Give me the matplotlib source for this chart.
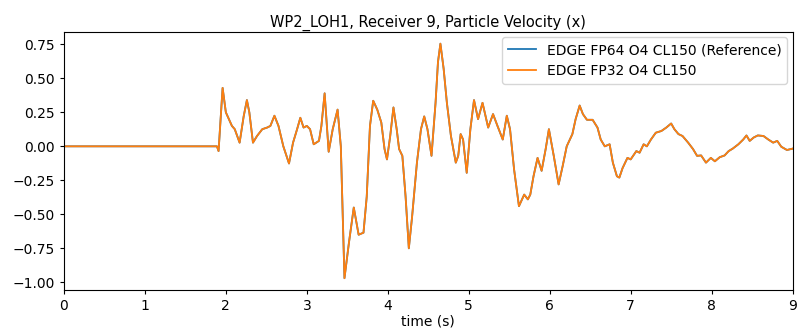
import matplotlib

matplotlib.use("Agg")
import matplotlib.pyplot as plt

# Receiver 9 particle velocity (x)
time_s = [
    0.00, 1.89, 1.91, 1.96, 2.00, 2.075, 2.11, 2.17, 2.22, 2.26, 2.29, 2.335,
    2.385, 2.45, 2.51, 2.55, 2.60, 2.65, 2.71, 2.78, 2.83, 2.88, 2.92, 2.96,
    3.00, 3.04, 3.085, 3.15, 3.18, 3.22, 3.27, 3.32, 3.38, 3.42, 3.465, 3.52,
    3.58, 3.64, 3.70, 3.74, 3.78, 3.82, 3.87, 3.92, 3.96, 3.99, 4.03, 4.07,
    4.11, 4.14, 4.18, 4.22, 4.26, 4.30, 4.36, 4.41, 4.45, 4.49, 4.54, 4.59,
    4.62, 4.65, 4.69, 4.73, 4.78, 4.84, 4.87, 4.90, 4.93, 4.975, 5.02, 5.065,
    5.115, 5.17, 5.24, 5.30, 5.355, 5.42, 5.47, 5.51, 5.56, 5.62, 5.685, 5.73,
    5.76, 5.80, 5.85, 5.90, 5.95, 5.99, 6.05, 6.11, 6.16, 6.21, 6.28, 6.32,
    6.37, 6.41, 6.46, 6.53, 6.59, 6.63, 6.68, 6.74, 6.78, 6.83, 6.86, 6.90,
    6.96, 7.00, 7.07, 7.11, 7.16, 7.20, 7.25, 7.31, 7.38, 7.44, 7.50, 7.54,
    7.59, 7.64, 7.71, 7.77, 7.82, 7.87, 7.93, 7.99, 8.04, 8.10, 8.16, 8.21,
    8.26, 8.33, 8.39, 8.43, 8.47, 8.52, 8.57, 8.64, 8.70, 8.76, 8.81, 8.86,
    8.93, 9.00,
]
vel_fp64 = [
    0.0, 0.0, -0.035, 0.43, 0.25, 0.15, 0.126, 0.027, 0.22, 0.34, 0.25, 0.027,
    0.076, 0.126, 0.138, 0.15, 0.225, 0.15, 0.0, -0.126, 0.027, 0.126, 0.21, 0.138,
    0.15, 0.126, 0.015, 0.04, 0.15, 0.39, -0.04, 0.126, 0.27, 0.0, -0.97, -0.71,
    -0.45, -0.65, -0.635, -0.37, 0.15, 0.335, 0.27, 0.175, -0.02, -0.096, 0.076, 0.286,
    0.126, -0.02, -0.07, -0.37, -0.75, -0.52, -0.12, 0.126, 0.22, 0.126, -0.07, 0.32,
    0.62, 0.755, 0.57, 0.32, 0.076, -0.12, -0.07, 0.09, 0.05, -0.195, 0.126, 0.34,
    0.2, 0.32, 0.138, 0.237, 0.15, 0.05, 0.225, 0.126, -0.17, -0.44, -0.355, -0.39,
    -0.355, -0.22, -0.085, -0.18, -0.02, 0.126, -0.07, -0.28, -0.145, 0.0, 0.09, 0.2,
    0.30, 0.237, 0.195, 0.195, 0.138, 0.05, 0.0, 0.015, -0.12, -0.22, -0.23, -0.16,
    -0.085, -0.096, -0.035, -0.047, 0.015, 0.0, 0.05, 0.1, 0.113, 0.138, 0.168, 0.126,
    0.09, 0.076, 0.027, -0.02, -0.07, -0.067, -0.12, -0.085, -0.11, -0.08, -0.067, -0.035,
    -0.017, 0.015, 0.05, 0.08, 0.04, 0.065, 0.08, 0.076, 0.05, 0.027, 0.04, -0.003,
    -0.027, -0.017,
]
# FP32 run is indistinguishable from the reference at this scale
vel_fp32 = [
    0.0, 0.0, -0.035, 0.43, 0.25, 0.15, 0.126, 0.027, 0.22, 0.34, 0.25, 0.027,
    0.076, 0.126, 0.138, 0.15, 0.225, 0.15, 0.0, -0.126, 0.027, 0.126, 0.21, 0.138,
    0.15, 0.126, 0.015, 0.04, 0.15, 0.39, -0.04, 0.126, 0.27, 0.0, -0.97, -0.71,
    -0.45, -0.65, -0.635, -0.37, 0.15, 0.335, 0.27, 0.175, -0.02, -0.096, 0.076, 0.286,
    0.126, -0.02, -0.07, -0.37, -0.75, -0.52, -0.12, 0.126, 0.22, 0.126, -0.07, 0.32,
    0.62, 0.755, 0.57, 0.32, 0.076, -0.12, -0.07, 0.09, 0.05, -0.195, 0.126, 0.34,
    0.2, 0.32, 0.138, 0.237, 0.15, 0.05, 0.225, 0.126, -0.17, -0.44, -0.355, -0.39,
    -0.355, -0.22, -0.085, -0.18, -0.02, 0.126, -0.07, -0.28, -0.145, 0.0, 0.09, 0.2,
    0.30, 0.237, 0.195, 0.195, 0.138, 0.05, 0.0, 0.015, -0.12, -0.22, -0.23, -0.16,
    -0.085, -0.096, -0.035, -0.047, 0.015, 0.0, 0.05, 0.1, 0.113, 0.138, 0.168, 0.126,
    0.09, 0.076, 0.027, -0.02, -0.07, -0.067, -0.12, -0.085, -0.11, -0.08, -0.067, -0.035,
    -0.017, 0.015, 0.05, 0.08, 0.04, 0.065, 0.08, 0.076, 0.05, 0.027, 0.04, -0.003,
    -0.027, -0.017,
]
labels = ["EDGE FP64 O4 CL150 (Reference)", "EDGE FP32 O4 CL150"]

fig = plt.figure(figsize=(7.99, 3.36), dpi=100)
ax = fig.add_axes([0.080, 0.137, 0.912, 0.768])

ax.plot(time_s, vel_fp64, color="tab:blue", linewidth=1.3, label=labels[0])
ax.plot(time_s, vel_fp32, color="tab:orange", linewidth=1.3, label=labels[1])

ax.set_xlim(0, 9)
ax.set_xticks(range(10))
ax.tick_params(labelsize=10, length=3)
ax.set_xlabel("time (s)", fontsize=10, labelpad=1)
ax.set_title("WP2_LOH1, Receiver 9, Particle Velocity (x)", fontsize=10.5, pad=4)
ax.legend(loc="upper right", fontsize=10, borderaxespad=0.4, handlelength=2.0)

fig.savefig("out.png", dpi=100)
